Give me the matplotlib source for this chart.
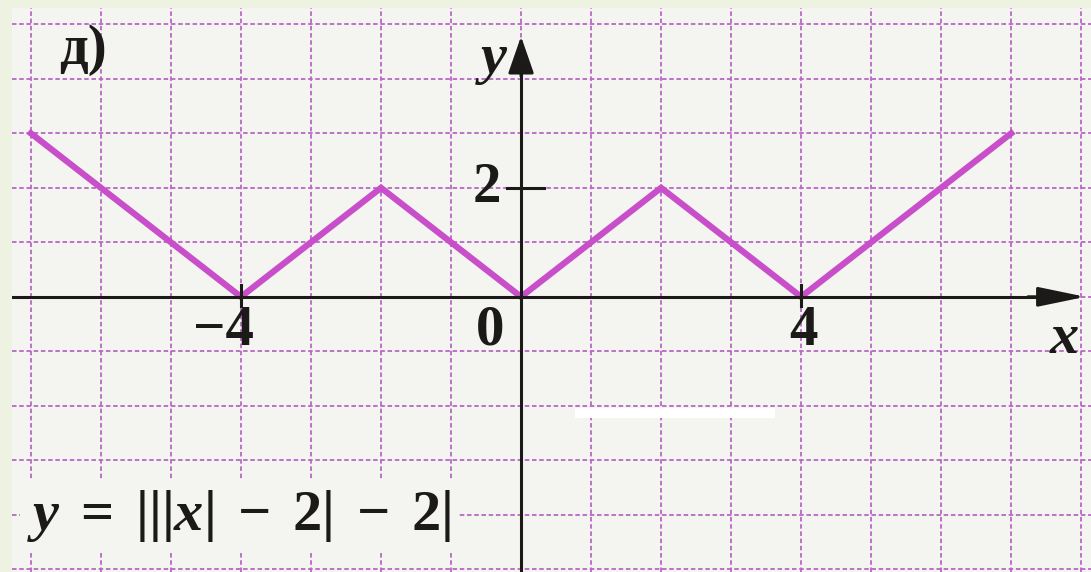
import matplotlib.pyplot as plt
from matplotlib.patches import Rectangle

# graph of y = |||x| - 2| - 2|
curve_x = [-7, -4, -2, 0, 2, 4, 7]
curve_y = [3, 0, 2, 0, 2, 0, 3]

x_ticks = [-4, 4]
x_tick_labels = ['\u22124', '4']
y_ticks = [2]
y_tick_labels = ['2']

grid_x = list(range(-7, 9))
grid_y = list(range(-5, 6))

paper = '#f4f4f1'
grid_col = '#b868c4'
curve_col = '#c94ec9'
ink = '#1c1a18'

plt.rcParams['mathtext.fontset'] = 'custom'
plt.rcParams['mathtext.rm'] = 'Liberation Serif:bold'
plt.rcParams['mathtext.it'] = 'Liberation Serif:italic:bold'

fig = plt.figure(figsize=(10.91, 5.72), dpi=100, facecolor='#eef2e1')
ax = fig.add_axes([12 / 1091, 0, 1079 / 1091, 564 / 572])
ax.set_facecolor(paper)
ax.set_xlim(-7.27, 8.14)
ax.set_ylim(-5.05, 5.30)
for s in ax.spines.values():
    s.set_visible(False)
ax.set_xticks([])
ax.set_yticks([])

# squared paper
for gx in grid_x:
    ax.axvline(gx, color=grid_col, lw=1.3, ls=(0, (2.5, 1.5)), zorder=1)
for gy in grid_y:
    ax.axhline(gy, color=grid_col, lw=1.3, ls=(0, (2.5, 1.5)), zorder=1)

# graph
ax.plot(curve_x, curve_y, color=curve_col, lw=4.5, solid_joinstyle='miter', zorder=3)

# axes with arrows
ax.plot([-7.27, 7.4], [0, 0], color=ink, lw=2.2, zorder=7)
ax.plot([0, 0], [-5.05, 4.2], color=ink, lw=2.2, zorder=7)
ax.annotate('', xy=(8.1, 0), xytext=(7.2, 0),
            arrowprops=dict(arrowstyle='-|>,head_length=2.9,head_width=0.6',
                            color=ink, lw=2.2), zorder=7)
ax.annotate('', xy=(0, 4.83), xytext=(0, 4.0),
            arrowprops=dict(arrowstyle='-|>,head_length=2.3,head_width=0.8',
                            color=ink, lw=2.2), zorder=7)

# ticks
for t in x_ticks:
    ax.plot([t, t], [-0.17, 0.22], color=ink, lw=2.2, zorder=4)
for t in y_ticks:
    ax.plot([-0.2, 0.33], [t, t], color=ink, lw=2.2, zorder=4)

serif = 'Liberation Serif'
lab = dict(family=serif, fontweight='bold', fontsize=41, color=ink,
           ha='center', va='center', zorder=6)
ax.text(-4.25, -0.62, x_tick_labels[0], **lab)
ax.text(4.04, -0.62, x_tick_labels[1], **lab)
ax.text(-0.44, -0.62, '0', **lab)
ax.text(-0.49, 2.0, y_tick_labels[0], **lab)
ax.text(-6.25, 4.53, 'д)', **lab)
ax.text(-0.39, 4.37, 'y', family=serif, style='italic', fontweight='bold',
        fontsize=42, color=ink, ha='center', va='center', zorder=6)
ax.text(7.76, -0.77, 'x', family=serif, style='italic', fontweight='bold',
        fontsize=42, color=ink, ha='center', va='center', zorder=6)

# formula
ax.text(-7.05, -4.02, r'$y\;=\;|||x|\;-\;2|\;-\;2|$', fontsize=42,
        color=ink, ha='left', va='center', zorder=6,
        bbox=dict(boxstyle='square,pad=0.12', fc=paper, ec='none'))

# white strip from the scan
ax.add_patch(Rectangle((0.77, -2.22), 2.86, 0.18, fc='white', ec='none', zorder=5))

fig.savefig('out.png', dpi=100, facecolor=fig.get_facecolor())
